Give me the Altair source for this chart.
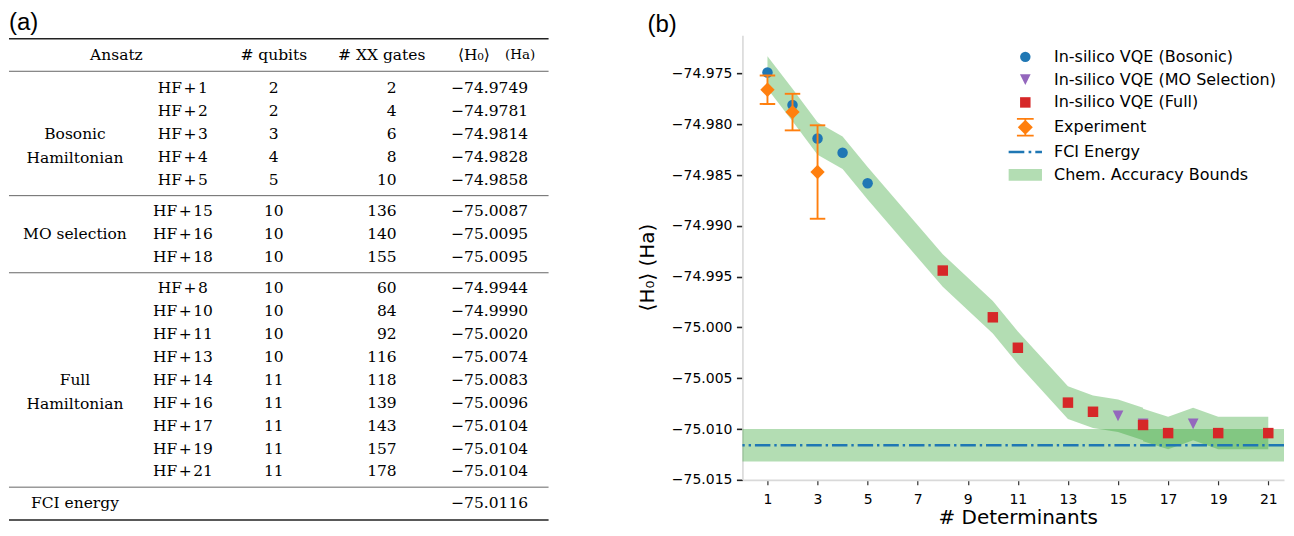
import altair as alt
import pandas as pd

# ---------------- data ----------------
BOS_N = [1, 2, 3, 4, 5]
BOS_QUBITS = [2, 2, 3, 4, 5]
BOS_GATES = [2, 4, 6, 8, 10]
BOS_E = [-74.9749, -74.9781, -74.9814, -74.9828, -74.9858]

MO_N = [15, 16, 18]
MO_QUBITS = [10, 10, 10]
MO_GATES = [136, 140, 155]
MO_E = [-75.0087, -75.0095, -75.0095]

FULL_N = [8, 10, 11, 13, 14, 16, 17, 19, 21]
FULL_QUBITS = [10, 10, 10, 10, 11, 11, 11, 11, 11]
FULL_GATES = [60, 84, 92, 116, 118, 139, 143, 157, 178]
FULL_E = [-74.9944, -74.9990, -75.0020, -75.0074, -75.0083,
          -75.0096, -75.0104, -75.0104, -75.0104]

FCI_E = -75.0116
CHEM_ACC = 0.0016

EXP_N = [1, 2, 3]
EXP_E = [-74.9766, -74.9788, -74.9847]
EXP_ERR = [0.0014, 0.0018, 0.0046]

GROUP_NAMES = ["Bosonic\nHamiltonian", "MO selection", "Full\nHamiltonian"]
FCI_LABEL = "FCI energy"
HEADERS = ["Ansatz", "# qubits", "# XX gates", "\u27e8H\u2080\u27e9", "(Ha)"]

SERIES = ["In-silico VQE (Bosonic)", "In-silico VQE (MO Selection)",
          "In-silico VQE (Full)", "Experiment", "FCI Energy",
          "Chem. Accuracy Bounds"]
X_TICKS = [1, 3, 5, 7, 9, 11, 13, 15, 17, 19, 21]
Y_TICKS = [-74.975, -74.980, -74.985, -74.990, -74.995,
           -75.000, -75.005, -75.010, -75.015]

# ---------------- table (a) ----------------
def fmt_e(v):
    return f"{v:.4f}".replace("-", "\u2212")

def hf(n):
    return f"HF\u200a+\u200a{n}"

COL_KEYS = ["panel", "group", "ansatz", "label", "qubits", "gates_hdr",
            "gates", "energy_hdr", "energy", "unit", "edge"]
COL_PX = [0, 66, 107.5, 174, 265, 373, 388, 465.3, 481, 511.5, 540]
col = {k: i for i, k in enumerate(COL_KEYS)}

TW, TH = 540, 445
ROW_GAP = 0.37
ROW_PX = 22.9
P0 = -2.3275
P1 = P0 + TH / ROW_PX
FS = 15.5

groups = [(GROUP_NAMES[0], BOS_N, BOS_QUBITS, BOS_GATES, BOS_E),
          (GROUP_NAMES[1], MO_N, MO_QUBITS, MO_GATES, MO_E),
          (GROUP_NAMES[2], FULL_N, FULL_QUBITS, FULL_GATES, FULL_E)]
cells, rules = [], []
r = 0
for g, (name, ns, qs, gs, es) in enumerate(groups):
    first = r + g * ROW_GAP
    for n, q, gt, e in zip(ns, qs, gs, es):
        p = r + g * ROW_GAP
        cells.append(dict(c=col["label"], p=p, t=hf(n), a="center", fs=FS))
        cells.append(dict(c=col["qubits"], p=p, t=str(q), a="center", fs=FS))
        cells.append(dict(c=col["gates"], p=p, t=str(gt), a="right", fs=FS))
        cells.append(dict(c=col["energy"], p=p, t=fmt_e(e), a="center", fs=FS))
        r += 1
    last = p
    cells.append(dict(c=col["group"], p=(first + last) / 2, t=name, a="center", fs=FS))
    rules.append(dict(p=last + (1 + ROW_GAP) / 2, w=0.9, k="#555555"))
p_fci = r + len(groups) * ROW_GAP
cells.append(dict(c=col["group"], p=p_fci, t=FCI_LABEL, a="center", fs=FS))
cells.append(dict(c=col["energy"], p=p_fci, t=fmt_e(FCI_E), a="center", fs=FS))
P_HEAD = -1.45
for key, txt, fs in zip(["ansatz", "qubits", "gates_hdr", "energy_hdr", "unit"],
                        HEADERS, [FS, FS, FS, FS, 13.5]):
    cells.append(dict(c=col[key], p=P_HEAD, t=txt, a="center", fs=fs))
rules.append(dict(p=-2.17, w=1.5, k="#222222"))
rules.append(dict(p=-0.75, w=0.9, k="#555555"))
rules.append(dict(p=p_fci + 0.75, w=1.5, k="#222222"))

cells_df = pd.DataFrame(cells)
rules_df = pd.DataFrame(rules)

tx = alt.X("c:Q", axis=None,
           scale=alt.Scale(domain=list(range(len(COL_PX))), range=COL_PX,
                           nice=False, zero=False))
ty = alt.Y("p:Q", axis=None,
           scale=alt.Scale(domain=[P0, P1], range=[0, TH], nice=False, zero=False))

t_rules = alt.Chart(rules_df).mark_rule().encode(
    x=alt.value(0), x2=alt.value(TW), y=ty,
    strokeWidth=alt.StrokeWidth("w:Q", scale=None),
    color=alt.Color("k:N", scale=None))
t_center = alt.Chart(cells_df).transform_filter("datum.a == 'center'").mark_text(
    font="DejaVu Serif", align="center", baseline="middle", lineBreak="\n",
    lineHeight=24, color="black").encode(
    x=tx, y=ty, text="t:N", size=alt.Size("fs:Q", scale=None))
t_right = alt.Chart(cells_df).transform_filter("datum.a == 'right'").mark_text(
    font="DejaVu Serif", align="right", baseline="middle", color="black").encode(
    x=tx, y=ty, text="t:N", size=alt.Size("fs:Q", scale=None))
t_panel = alt.Chart(pd.DataFrame({"c": [col["panel"]], "p": [-2.8515], "t": ["(a)"]})).mark_text(
    font="Liberation Sans", fontSize=24, align="left", baseline="middle",
    color="black").encode(x=tx, y=ty, text="t:N")

table = alt.layer(t_center, t_rules, t_right, t_panel).properties(width=TW, height=TH)

# ---------------- plot (b) ----------------
PW, PH = 542, 445
GAP = 194
X_MIN, X_MAX = 0, PW / 25.06
Y_MIN, Y_MAX = -75.015, -74.97123

vqe = pd.DataFrame({
    "n": BOS_N + MO_N + FULL_N,
    "e": BOS_E + MO_E + FULL_E,
    "series": [SERIES[0]] * len(BOS_N) + [SERIES[1]] * len(MO_N) + [SERIES[2]] * len(FULL_N),
})
band = vqe.sort_values("n", kind="stable").reset_index(drop=True)
band["lo"] = band["e"] - CHEM_ACC
band["hi"] = band["e"] + CHEM_ACC

exp = pd.DataFrame({"n": EXP_N, "e": EXP_E, "err": EXP_ERR})
exp["lo"] = exp["e"] - exp["err"]
exp["hi"] = exp["e"] + exp["err"]

fci = pd.DataFrame({"e": [FCI_E], "lo": [FCI_E - CHEM_ACC], "hi": [FCI_E + CHEM_ACC]})

TRI_DOWN = "M-1.02,-1.02L1.02,-1.02L0,1.02Z"
EXP_PATH = ("M-1.43,0L0,-1.43L1.43,0L0,1.43Z "
            "M-0.17,-1.6L0.17,-1.6L0.17,1.6L-0.17,1.6Z "
            "M-1.6,-1.77L1.6,-1.77L1.6,-1.43L-1.6,-1.43Z "
            "M-1.6,1.43L1.6,1.43L1.6,1.77L-1.6,1.77Z")
FCI_PATH = ("M-3.18,-0.23L-0.19,-0.23L-0.19,0.23L-3.18,0.23Z "
            "M0.63,-0.23L1.14,-0.23L1.14,0.23L0.63,0.23Z "
            "M1.91,-0.23L3.18,-0.23L3.18,0.23L1.91,0.23Z")
BAND_PATH = "M-3.18,-1.12L3.18,-1.12L3.18,1.12L-3.18,1.12Z"
SHAPES = ["circle", TRI_DOWN, "square", EXP_PATH, FCI_PATH, BAND_PATH]
COLORS = ["#1f77b4", "#9467bd", "#d62728", "#ff7f0e", "#1f77b4", "#b3ddb3"]
PT_SIZE = 110

xs = alt.Scale(domain=[X_MIN, X_MAX], nice=False, zero=False)
ys = alt.Scale(domain=[Y_MIN, Y_MAX], nice=False, zero=False)

x_axis = alt.Axis(values=X_TICKS, format="d", grid=False, domainColor="#d9d9d9",
                  domainWidth=1.6, tickColor="#333333", tickSize=5, tickWidth=1.2,
                  labelFont="DejaVu Sans", labelFontSize=14, labelColor="black",
                  labelPadding=8, title="# Determinants", titleFont="DejaVu Sans",
                  titleFontSize=20, titleFontWeight="normal", titleColor="black",
                  titleX=PW / 2 + 4.5, titleY=44, titleBaseline="alphabetic",
                  titleAlign="center")
y_axis = alt.Axis(values=Y_TICKS, format=".3f", grid=False, domainColor="#d9d9d9",
                  domainWidth=1.6, tickColor="#222222", tickSize=6, tickWidth=1.6,
                  labelFont="DejaVu Sans", labelFontSize=14, labelColor="black",
                  labelPadding=4.5, title="\u27e8H\u2080\u27e9 (Ha)",
                  titleFont="DejaVu Sans", titleFontSize=20, titleFontWeight="normal",
                  titleColor="black", titleX=-95.2, titleY=232, titleAngle=-90,
                  titleAlign="center", titleBaseline="middle")

# legend lives at the concat level, so its x is measured from the table's left edge
legend = alt.Legend(title=None, orient="none", legendX=TW + GAP + 275.1, legendY=13.7,
                    direction="vertical", labelFont="DejaVu Sans", labelFontSize=16,
                    labelColor="black", labelOffset=20.7, rowPadding=6.8,
                    symbolSize=PT_SIZE, symbolStrokeWidth=0, symbolOpacity=1,
                    padding=0, labelLimit=400)

fci_band = alt.Chart(fci).mark_rect(color="#2ca02c", opacity=0.36).encode(
    x=alt.value(0), x2=alt.value(PW),
    y=alt.Y("lo:Q", scale=ys, axis=y_axis), y2="hi:Q")
vqe_band = alt.Chart(band).mark_area(color="#2ca02c", opacity=0.36).encode(
    x=alt.X("n:Q", scale=xs, axis=x_axis), y=alt.Y("lo:Q", scale=ys), y2="hi:Q")
fci_line = alt.Chart(fci).mark_rule(color="#1f77b4", strokeWidth=2.4,
                                    strokeDash=[15.5, 3.9, 2.4, 3.9]).encode(
    y=alt.Y("e:Q", scale=ys))
vqe_pts = alt.Chart(vqe).mark_point(filled=True, opacity=1, size=PT_SIZE,
                                    strokeWidth=0).encode(
    x=alt.X("n:Q", scale=xs, axis=x_axis),
    y=alt.Y("e:Q", scale=ys, axis=y_axis),
    color=alt.Color("series:N", scale=alt.Scale(domain=SERIES, range=COLORS), legend=legend),
    shape=alt.Shape("series:N", scale=alt.Scale(domain=SERIES, range=SHAPES), legend=legend))
err_rule = alt.Chart(exp).mark_rule(color="#ff7f0e", strokeWidth=1.9).encode(
    x=alt.X("n:Q", scale=xs), y=alt.Y("lo:Q", scale=ys), y2="hi:Q")
cap_lo = alt.Chart(exp).mark_tick(color="#ff7f0e", thickness=1.9, size=15.5,
                                  orient="horizontal", opacity=1).encode(
    x=alt.X("n:Q", scale=xs), y=alt.Y("lo:Q", scale=ys))
cap_hi = alt.Chart(exp).mark_tick(color="#ff7f0e", thickness=1.9, size=15.5,
                                  orient="horizontal", opacity=1).encode(
    x=alt.X("n:Q", scale=xs), y=alt.Y("hi:Q", scale=ys))
exp_pts = alt.Chart(exp).mark_point(shape="diamond", filled=True, size=205,
                                    color="#ff7f0e", opacity=1).encode(
    x=alt.X("n:Q", scale=xs), y=alt.Y("e:Q", scale=ys))

plot = alt.layer(fci_band, vqe_band, fci_line, vqe_pts, err_rule, cap_lo,
                 cap_hi, exp_pts).properties(
    width=PW, height=PH,
    title=alt.TitleParams("(b)", anchor="start", frame="group", dx=-95,
                          font="Liberation Sans", fontSize=24, fontWeight="normal",
                          color="black", baseline="bottom", offset=-26))

chart = alt.hconcat(table, plot, spacing=GAP, bounds="flush").properties(
    padding={"top": 3, "left": 0, "right": 0, "bottom": 0},
    background="white").configure_view(stroke=None)

chart.save("out.html", embed_options={"renderer": "svg", "actions": False})
